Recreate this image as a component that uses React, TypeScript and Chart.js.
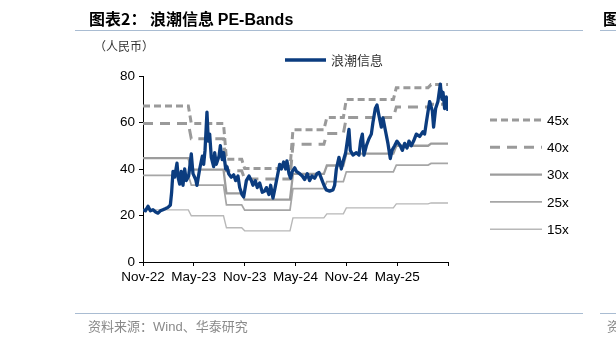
import React, { useEffect, useRef } from 'react';
import { Chart, registerables } from 'chart.js';

Chart.register(...registerables);

// ---- data ----
const xTickLabels = ['Nov-22', 'May-23', 'Nov-23', 'May-24', 'Nov-24', 'May-25', ''];

// months since Nov-22
const priceMonths = [
  0, 0.28, 0.59, 0.87, 1.18, 1.49, 1.77, 2.05, 2.36, 2.68,
  2.95, 3.23, 3.38, 3.54, 3.74, 4.01, 4.17, 4.33, 4.52, 4.72,
  4.92, 5.11, 5.39, 5.7, 5.9, 6.22, 6.37, 6.69, 7.0, 7.16,
  7.32, 7.55, 7.71, 7.87, 8.06, 8.34, 8.46, 8.65, 8.97, 9.13,
  9.36, 9.52, 9.76, 9.91, 10.11, 10.42, 10.7, 10.94, 11.21, 11.41,
  11.68, 11.88, 12.2, 12.51, 12.79, 12.98, 13.26, 13.49, 13.77, 14.08,
  14.36, 14.56, 14.87, 15.07, 15.34, 15.54, 15.81, 16.13, 16.33, 16.6,
  16.84, 16.99, 17.23, 17.43, 17.62, 17.9, 18.1, 18.49, 18.8, 19.08,
  19.39, 19.67, 19.94, 20.26, 20.53, 20.77, 21.05, 21.36, 21.64, 22.03,
  22.42, 22.62, 22.82, 23.13, 23.41, 23.6, 23.92, 24.31, 24.47, 24.78,
  25.18, 25.49, 25.69, 25.89, 26.08, 26.36, 26.67, 26.95, 27.14, 27.42,
  27.62, 27.85, 28.13, 28.32, 28.64, 28.91, 29.19, 29.39, 29.7, 29.98,
  30.37, 30.61, 30.88, 31.16, 31.39, 31.67, 31.94, 32.26, 32.65, 33.04,
  33.24, 33.44, 33.83, 34.15, 34.3, 34.54, 34.81, 35.09, 35.29, 35.41,
  35.6, 35.72, 35.8, 36.0,
];

const priceValues = [
  22.5, 22, 24, 22, 22.5, 21.5, 21, 22, 22.5, 23,
  23.5, 24.5, 30, 39, 36.5, 42.5, 36, 33.5, 39, 33,
  40, 35, 37, 46.5, 38, 35.5, 33, 40, 45.5, 42,
  48, 64.5, 52, 55, 45, 41, 47, 42, 45.5, 50,
  44, 47, 40, 41, 38, 36.5, 37.5, 35, 37, 32,
  29, 28, 35, 37, 35, 33, 35, 32, 34, 30,
  30.5, 32, 29, 33, 27.5, 31, 36, 42, 40, 43,
  40, 43.5, 38, 36, 39, 40.5, 39, 38, 37, 35.5,
  38, 35, 37, 36, 38, 38.5, 36, 33, 31, 30.5,
  31, 33, 40, 45, 40, 43, 47, 57, 48, 46,
  47, 46, 52, 55, 46, 50, 53, 55, 60, 66,
  67.5, 63, 58, 62, 56, 51, 44.5, 48, 50, 52,
  50, 48, 51, 49, 52, 50, 52, 55, 54, 56,
  55, 60, 69, 65, 58, 66, 69, 76.5, 70, 73,
  66, 67, 71, 65,
];

// PE band step levels (start month of each step)
const bandStepStarts = [0, 5.7, 9.85, 12.0, 17.7, 21.7, 24.0, 29.9, 34.0];
const pe45 = [67.1, 59.6, 44.2, 40.2, 56.9, 62.2, 69.9, 75.0, 76.3];
const pe40 = [59.6, 53.0, 39.3, 35.7, 50.6, 55.3, 62.1, 66.7, 67.8];
const pe30 = [44.7, 39.7, 29.5, 26.8, 37.9, 41.5, 46.6, 50.0, 50.9];
const pe25 = [37.3, 33.1, 24.6, 22.3, 31.6, 34.6, 38.8, 41.7, 42.4];
const pe15 = [22.4, 19.9, 14.7, 13.4, 19.0, 20.7, 23.3, 25.0, 25.4];

const seriesName = '浪潮信息';
const bandNames = ['45x', '40x', '30x', '25x', '15x'];
const xMax = 36;

const LATIN = '"Liberation Sans", Arial, sans-serif';
const CJK = '"Noto Sans CJK SC", "Liberation Sans", sans-serif';

function stepPoints(levels: number[]) {
  const pts: { x: number; y: number }[] = [];
  levels.forEach((v, i) => {
    const start = bandStepStarts[i];
    const end = i + 1 < bandStepStarts.length ? bandStepStarts[i + 1] - 0.35 : xMax;
    pts.push({ x: start, y: v });
    pts.push({ x: end, y: v });
  });
  return pts;
}

const legendPlugin = {
  id: 'customLegends',
  afterDraw(chart: any) {
    const ctx = chart.ctx as CanvasRenderingContext2D;
    const ds = chart.data.datasets;
    const sample = (d: any, x0: number, x1: number, y: number) => {
      ctx.save();
      ctx.strokeStyle = d.borderColor;
      ctx.lineWidth = d.borderWidth;
      ctx.setLineDash(d.borderDash || []);
      ctx.beginPath();
      ctx.moveTo(x0, y);
      ctx.lineTo(x1, y);
      ctx.stroke();
      ctx.restore();
    };
    // top legend
    sample(ds[0], 285, 326, 60);
    ctx.save();
    ctx.fillStyle = '#333';
    ctx.font = '13px ' + CJK;
    ctx.textBaseline = 'middle';
    ctx.fillText(ds[0].label, 331, 60);
    ctx.restore();
    // right legend
    for (let i = 1; i < ds.length; i++) {
      const y = 120 + (i - 1) * 27.3;
      sample(ds[i], 490, 542, y);
      ctx.save();
      ctx.fillStyle = '#000';
      ctx.font = '13.5px ' + LATIN;
      ctx.textBaseline = 'middle';
      ctx.fillText(ds[i].label, 547, y + 1);
      ctx.restore();
    }
  },
};

function PEChart() {
  const ref = useRef<HTMLCanvasElement | null>(null);
  useEffect(() => {
    if (!ref.current) return;
    const bandStyles = [
      { levels: pe45, color: '#9a9a9a', width: 3, dash: [7, 4] },
      { levels: pe40, color: '#9a9a9a', width: 3, dash: [10, 7] },
      { levels: pe30, color: '#9c9c9c', width: 2.3, dash: [] as number[] },
      { levels: pe25, color: '#a6a6a6', width: 1.7, dash: [] as number[] },
      { levels: pe15, color: '#b8b8b8', width: 1.4, dash: [] as number[] },
    ];
    const chart = new Chart(ref.current, {
      type: 'line',
      data: {
        datasets: [
          {
            label: seriesName,
            data: priceMonths.map((m, i) => ({ x: m, y: priceValues[i] })),
            borderColor: '#0b3c7f',
            borderWidth: 3.3,
            pointRadius: 0,
            tension: 0,
            borderJoinStyle: 'round',
          } as any,
          ...bandStyles.map((b, i) => ({
            label: bandNames[i],
            data: stepPoints(b.levels),
            borderColor: b.color,
            borderWidth: b.width,
            borderDash: b.dash,
            pointRadius: 0,
            tension: 0,
          })),
        ],
      },
      options: {
        responsive: false,
        animation: false,
        devicePixelRatio: 1,
        layout: { padding: { left: 0, right: 168, top: 76, bottom: 0 } },
        plugins: { legend: { display: false }, tooltip: { enabled: false } },
        scales: {
          x: {
            type: 'linear',
            min: 0,
            max: xMax,
            afterFit: (s: any) => {
              s.height = 81;
            },
            ticks: {
              stepSize: 6,
              autoSkip: false,
              maxRotation: 0,
              padding: 3,
              color: '#000',
              font: { family: LATIN, size: 13.5 },
              callback: (_v: any, i: number) => xTickLabels[i],
            },
            grid: { drawOnChartArea: false, color: '#000', tickLength: 4 },
            border: { color: '#000', width: 1 },
          },
          y: {
            min: 0,
            max: 80,
            afterFit: (s: any) => {
              s.width = 143;
            },
            ticks: {
              stepSize: 20,
              padding: 4,
              color: '#000',
              font: { family: LATIN, size: 13.5 },
            },
            grid: { drawOnChartArea: false, color: '#000', tickLength: 4 },
            border: { color: '#000', width: 1 },
          },
        },
      },
      plugins: [legendPlugin],
    } as any);
    return () => chart.destroy();
  }, []);
  return <canvas ref={ref} width={616} height={343} style={{ position: 'absolute', left: 0, top: 0, display: 'block' }} />;
}

export default function App() {
  const abs: React.CSSProperties = { position: 'absolute', whiteSpace: 'pre', margin: 0 };
  return (
    <div style={{ position: 'absolute', left: 0, top: 0, width: 616, height: 343, overflow: 'hidden', background: '#fff' }}>
      <PEChart />
      <div style={{ ...abs, left: 89, top: 7, fontFamily: CJK, fontWeight: 700, fontSize: 16, color: '#000', lineHeight: '22px' }}>
        {'图表2： 浪潮信息 '}
        <span style={{ fontFamily: LATIN }}>PE-Bands</span>
      </div>
      <div style={{ ...abs, left: 603, top: 7, fontFamily: CJK, fontWeight: 700, fontSize: 16, color: '#000', lineHeight: '22px' }}>图</div>
      <div style={{ ...abs, left: 75, top: 30, width: 508, height: 1, background: '#a9bcd2' }} />
      <div style={{ ...abs, left: 600, top: 30, width: 16, height: 1, background: '#a9bcd2' }} />
      <div style={{ ...abs, left: 94, top: 38, fontFamily: CJK, fontSize: 12, color: '#333', lineHeight: '16px' }}>（人民币）</div>
      <div style={{ ...abs, left: 75, top: 313, width: 508, height: 1, background: '#a9bcd2' }} />
      <div style={{ ...abs, left: 600, top: 313, width: 16, height: 1, background: '#a9bcd2' }} />
      <div style={{ ...abs, left: 88, top: 317, fontFamily: CJK, fontSize: 13, color: '#8a8a8a', lineHeight: '18px' }}>
        {'资料来源：'}
        <span style={{ fontFamily: LATIN }}>Wind</span>
        {'、华泰研究'}
      </div>
      <div style={{ ...abs, left: 607, top: 317, fontFamily: CJK, fontSize: 13, color: '#8a8a8a', lineHeight: '18px' }}>资</div>
    </div>
  );
}
